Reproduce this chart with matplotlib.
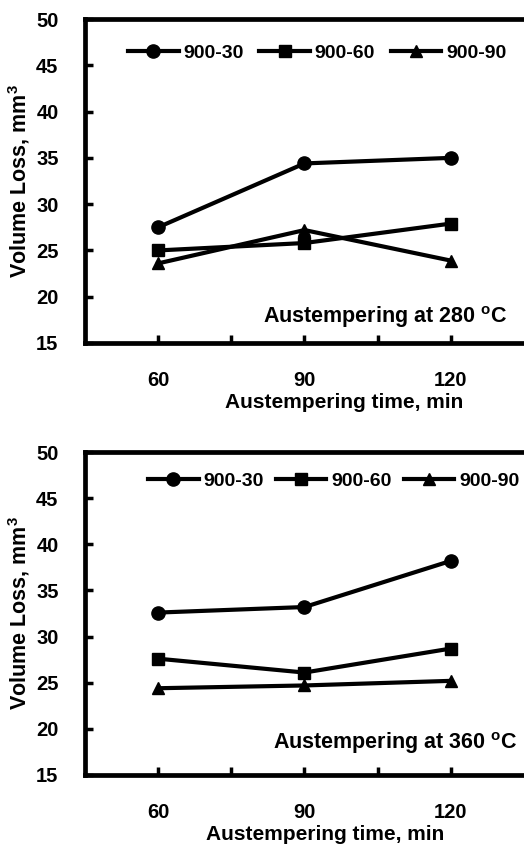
import matplotlib
matplotlib.use("Agg")
import matplotlib.pyplot as plt

plt.rcParams['font.family'] = ['Liberation Sans', 'DejaVu Sans']
plt.rcParams['font.weight'] = 'bold'
plt.rcParams['mathtext.default'] = 'regular'

# austempering time (min)
times = [60, 90, 120]
series_names = ['900-30', '900-60', '900-90']
markers = ['o', 's', '^']
marker_sizes = [9.5, 8.5, 8]

# volume loss, mm^3 - austempering at 280 C
loss_280 = {
    '900-30': [27.5, 34.4, 35.0],
    '900-60': [25.0, 25.8, 27.9],
    '900-90': [23.6, 27.2, 23.9],
}
# volume loss, mm^3 - austempering at 360 C
loss_360 = {
    '900-30': [32.6, 33.2, 38.2],
    '900-60': [27.6, 26.1, 28.7],
    '900-90': [24.4, 24.7, 25.2],
}

x_ticks = [60, 75, 90, 105, 120]
x_ticklabels = ['60', '', '90', '', '120']
y_ticks = [15, 20, 25, 30, 35, 40, 45, 50]

# data, temperature, axes rect, legend pos, note pos, column spacing, xlabel x
panels = [
    (loss_280, '280', [0.1622, 0.596, 0.8378, 0.3816],
     (0.098, 0.895), (0.961, 0.08), 0.8, 0.59),
    (loss_360, '360', [0.1622, 0.0872, 0.8378, 0.3804],
     (0.1435, 0.91), (0.984, 0.099), 0.62, 0.547),
]

fig = plt.figure(figsize=(5.24, 8.49), dpi=100)

for data, temp, rect, leg_pos, note_pos, colsp, xlab_x in panels:
    ax = fig.add_axes(rect)
    for name, mk, ms in zip(series_names, markers, marker_sizes):
        ax.plot(times, data[name], color='black', lw=3, marker=mk,
                markersize=ms, label=name, clip_on=False)

    ax.set_xlim(45, 135)
    ax.set_ylim(15, 50)
    ax.set_xticks(x_ticks)
    ax.set_xticklabels(x_ticklabels)
    ax.set_yticks(y_ticks)

    for side in ['left', 'bottom', 'top']:
        ax.spines[side].set_linewidth(3.4)
    ax.spines['right'].set_visible(False)

    ax.tick_params(axis='both', direction='in', length=6, width=2.5,
                   labelsize=14.5, pad=19)
    ax.tick_params(axis='x', pad=20)

    ax.set_xlabel('Austempering time, min', fontsize=15, fontweight='bold',
                  labelpad=1)
    ax.xaxis.set_label_coords(xlab_x, -0.155)
    ax.set_ylabel('Volume Loss, mm$^{3}$', fontsize=15.5, fontweight='bold',
                  labelpad=3)

    ax.legend(loc='center left', bbox_to_anchor=leg_pos, ncol=3,
              frameon=False, fontsize=14, handlelength=2.6,
              handletextpad=0.25, columnspacing=colsp,
              borderpad=0, borderaxespad=0)

    ax.text(note_pos[0], note_pos[1],
            'Austempering at ' + temp + ' $^{\\mathregular{o}}$C',
            transform=ax.transAxes, ha='right', va='center',
            fontsize=15.5, fontweight='bold')

fig.savefig('out.png', dpi=100, facecolor='white')
